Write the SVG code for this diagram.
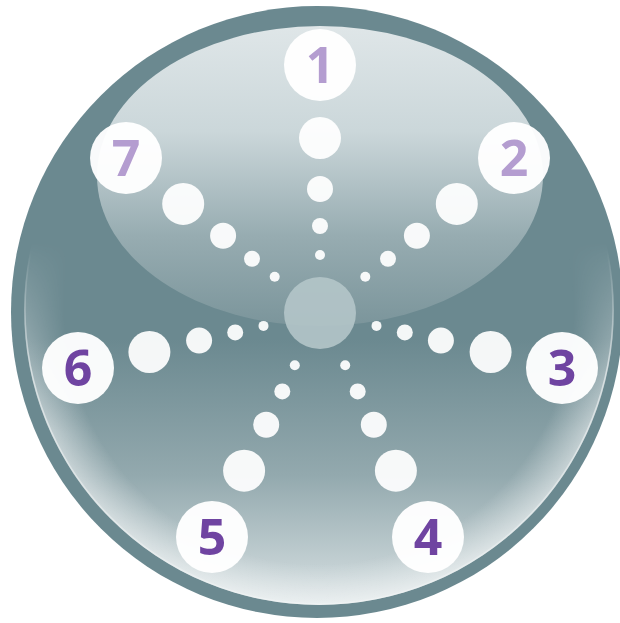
<svg xmlns="http://www.w3.org/2000/svg" width="620" height="623" viewBox="0 0 620 623">
<defs>
<linearGradient id="disc" x1="0" y1="0" x2="0" y2="1">
<stop offset="0" stop-color="#6b8990"/>
<stop offset="0.55" stop-color="#6b8990"/>
<stop offset="0.78" stop-color="#93a9ae"/>
<stop offset="1" stop-color="#d8e1e3"/>
</linearGradient>
<radialGradient id="edge" cx="0.5" cy="0.5" r="0.5">
<stop offset="0.86" stop-color="#ffffff" stop-opacity="0"/>
<stop offset="1" stop-color="#ffffff" stop-opacity="0.5"/>
</radialGradient>
<linearGradient id="mk" x1="0" y1="0" x2="0" y2="1">
<stop offset="0.38" stop-color="#ffffff" stop-opacity="0"/>
<stop offset="0.7" stop-color="#ffffff" stop-opacity="1"/>
</linearGradient>
<mask id="lower" maskUnits="userSpaceOnUse" x="0" y="0" width="620" height="623">
<rect x="0" y="15" width="620" height="595" fill="url(#mk)"/>
</mask>
<linearGradient id="rim" x1="0" y1="0" x2="0" y2="1">
<stop offset="0.4" stop-color="#ffffff" stop-opacity="0"/>
<stop offset="0.6" stop-color="#ffffff" stop-opacity="0.55"/>
<stop offset="1" stop-color="#ffffff" stop-opacity="0.2"/>
</linearGradient>
<linearGradient id="hl" x1="0" y1="0" x2="0" y2="1">
<stop offset="0" stop-color="#dfe6e8"/>
<stop offset="0.35" stop-color="#cbd7da"/>
<stop offset="0.7" stop-color="#97acb1"/>
<stop offset="1" stop-color="#7b959b"/>
</linearGradient>
<style>
.dot{fill:#ffffff;fill-opacity:0.93}
.num{fill:#ffffff;fill-opacity:0.96}
.t{font-family:"Open Sans","DejaVu Sans",sans-serif;font-weight:bold;font-size:50px;text-anchor:middle}
.dk{fill:#6f44a1}
.lt{fill:#b49dd0}
</style>
</defs>
<g id="background">
<circle cx="317" cy="312" r="306" fill="#6b8990"/>
<circle cx="319" cy="310" r="295" fill="url(#disc)"/>
<circle cx="319" cy="310" r="295" fill="url(#edge)" mask="url(#lower)"/>
<circle cx="319" cy="310" r="294" fill="none" stroke="url(#rim)" stroke-width="1.5"/>
<ellipse cx="320" cy="176" rx="223" ry="150" fill="url(#hl)"/>
<circle id="center" cx="320" cy="313" r="36" fill="#b4c5c9" fill-opacity="0.9"/>
</g>
<g id="connectors">
<circle class="dot" cx="320" cy="138" r="21"/><circle class="dot" cx="320" cy="189" r="13"/><circle class="dot" cx="320" cy="226" r="8"/><circle class="dot" cx="320" cy="255" r="5"/>
<circle class="dot" cx="456.8" cy="203.9" r="21"/><circle class="dot" cx="416.9" cy="235.7" r="13"/><circle class="dot" cx="388" cy="258.8" r="8"/><circle class="dot" cx="365.3" cy="276.8" r="5"/>
<circle class="dot" cx="490.6" cy="352" r="21"/><circle class="dot" cx="440.9" cy="340.6" r="13"/><circle class="dot" cx="404.8" cy="332.4" r="8"/><circle class="dot" cx="376.5" cy="325.9" r="5"/>
<circle class="dot" cx="395.9" cy="470.7" r="21"/><circle class="dot" cx="373.8" cy="424.7" r="13"/><circle class="dot" cx="357.7" cy="391.4" r="8"/><circle class="dot" cx="345.2" cy="365.3" r="5"/>
<circle class="dot" cx="244.1" cy="470.7" r="21"/><circle class="dot" cx="266.2" cy="424.7" r="13"/><circle class="dot" cx="282.3" cy="391.4" r="8"/><circle class="dot" cx="294.8" cy="365.3" r="5"/>
<circle class="dot" cx="149.4" cy="352" r="21"/><circle class="dot" cx="199.1" cy="340.6" r="13"/><circle class="dot" cx="235.2" cy="332.4" r="8"/><circle class="dot" cx="263.5" cy="325.9" r="5"/>
<circle class="dot" cx="183.2" cy="203.9" r="21"/><circle class="dot" cx="223.1" cy="235.7" r="13"/><circle class="dot" cx="252" cy="258.8" r="8"/><circle class="dot" cx="274.7" cy="276.8" r="5"/>
</g>
<g id="n1"><circle class="num" cx="320" cy="65" r="36"/><text class="t lt" x="320" y="83">1</text></g>
<g id="n2"><circle class="num" cx="514" cy="158" r="36"/><text class="t lt" x="514" y="176">2</text></g>
<g id="n3"><circle class="num" cx="562" cy="368" r="36"/><text class="t dk" x="562" y="386">3</text></g>
<g id="n4"><circle class="num" cx="428" cy="537" r="36"/><text class="t dk" x="428" y="555">4</text></g>
<g id="n5"><circle class="num" cx="212" cy="537" r="36"/><text class="t dk" x="212" y="555">5</text></g>
<g id="n6"><circle class="num" cx="78" cy="368" r="36"/><text class="t dk" x="78" y="386">6</text></g>
<g id="n7"><circle class="num" cx="126" cy="158" r="36"/><text class="t lt" x="126" y="176">7</text></g>
</svg>
